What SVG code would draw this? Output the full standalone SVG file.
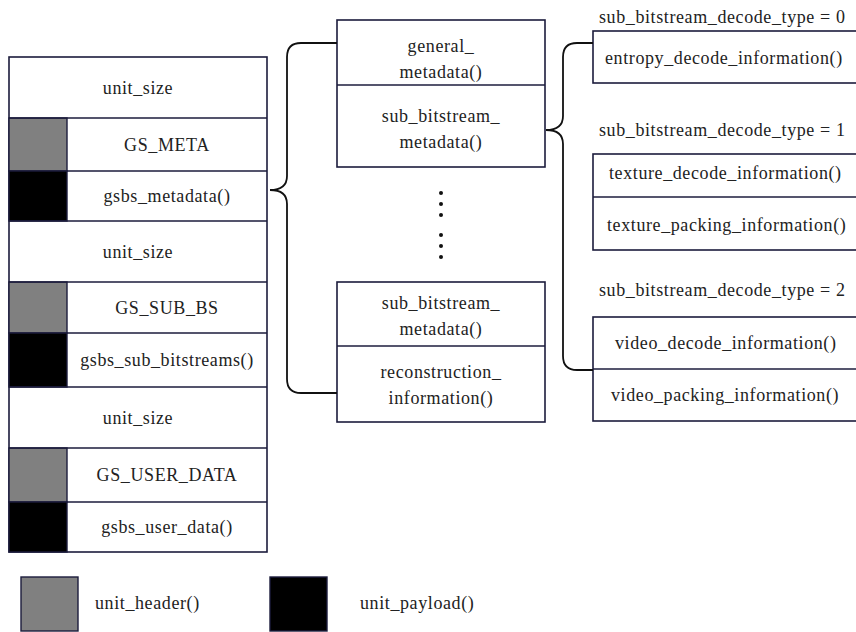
<svg xmlns="http://www.w3.org/2000/svg" width="856" height="632" viewBox="0 0 856 632">
<style>
.box{fill:#fff;stroke:#1c1c3c;stroke-width:1.6}
.hdr{fill:#808080;stroke:#1c1c3c;stroke-width:1.4}
.pay{fill:#000;stroke:#1c1c3c;stroke-width:1.4}
.ln{fill:none;stroke:#1c1c3c;stroke-width:1.6}
.br{fill:none;stroke:#111;stroke-width:1.8}
</style>
<rect width="856" height="632" fill="#fff"/>
<g id="left-column">
<rect class="box" x="9" y="57" width="258" height="495"/>
<rect class="hdr" x="9" y="118" width="58" height="53"/>
<rect class="pay" x="9" y="171" width="58" height="50"/>
<rect class="hdr" x="9" y="282" width="58" height="51"/>
<rect class="pay" x="9" y="333" width="58" height="54"/>
<rect class="hdr" x="9" y="448" width="58" height="54"/>
<rect class="pay" x="9" y="502" width="58" height="50"/>
<path class="ln" d="M9,118H267M67,171H267M9,221H267M9,282H267M67,333H267M9,387H267M9,448H267M67,502H267"/>
<text x="138" y="94" text-anchor="middle" font-family="Liberation Serif" font-size="18" letter-spacing="0.6" fill="#222">unit_size</text>
<text x="167" y="151" text-anchor="middle" font-family="Liberation Serif" font-size="18" letter-spacing="0.6" fill="#222">GS_META</text>
<text x="167" y="202" text-anchor="middle" font-family="Liberation Serif" font-size="18" letter-spacing="0.6" fill="#222">gsbs_metadata()</text>
<text x="138" y="258" text-anchor="middle" font-family="Liberation Serif" font-size="18" letter-spacing="0.6" fill="#222">unit_size</text>
<text x="167" y="314" text-anchor="middle" font-family="Liberation Serif" font-size="18" letter-spacing="0.6" fill="#222">GS_SUB_BS</text>
<text x="167" y="366" text-anchor="middle" font-family="Liberation Serif" font-size="18" letter-spacing="0.6" fill="#222">gsbs_sub_bitstreams()</text>
<text x="138" y="424" text-anchor="middle" font-family="Liberation Serif" font-size="18" letter-spacing="0.6" fill="#222">unit_size</text>
<text x="167" y="481" text-anchor="middle" font-family="Liberation Serif" font-size="18" letter-spacing="0.6" fill="#222">GS_USER_DATA</text>
<text x="167" y="533" text-anchor="middle" font-family="Liberation Serif" font-size="18" letter-spacing="0.6" fill="#222">gsbs_user_data()</text>
</g>
<g id="metadata-box-top">
<rect class="box" x="337" y="20" width="208" height="147"/>
<path class="ln" d="M337,85H545"/>
<text x="441" y="52" text-anchor="middle" font-family="Liberation Serif" font-size="18" letter-spacing="0.6" fill="#222">general_</text>
<text x="441" y="78" text-anchor="middle" font-family="Liberation Serif" font-size="18" letter-spacing="0.6" fill="#222">metadata()</text>
<text x="441" y="122" text-anchor="middle" font-family="Liberation Serif" font-size="18" letter-spacing="0.6" fill="#222">sub_bitstream_</text>
<text x="441" y="148" text-anchor="middle" font-family="Liberation Serif" font-size="18" letter-spacing="0.6" fill="#222">metadata()</text>
</g>
<g id="ellipsis" fill="#111">
<circle cx="441" cy="193" r="2"/><circle cx="441" cy="204" r="2"/><circle cx="441" cy="215" r="2"/>
<circle cx="441" cy="235" r="2"/><circle cx="441" cy="246" r="2"/><circle cx="441" cy="257" r="2"/>
</g>
<g id="metadata-box-bottom">
<rect class="box" x="337" y="282" width="208" height="140"/>
<path class="ln" d="M337,346H545"/>
<text x="441" y="309" text-anchor="middle" font-family="Liberation Serif" font-size="18" letter-spacing="0.6" fill="#222">sub_bitstream_</text>
<text x="441" y="335" text-anchor="middle" font-family="Liberation Serif" font-size="18" letter-spacing="0.6" fill="#222">metadata()</text>
<text x="441" y="378" text-anchor="middle" font-family="Liberation Serif" font-size="18" letter-spacing="0.6" fill="#222">reconstruction_</text>
<text x="441" y="404" text-anchor="middle" font-family="Liberation Serif" font-size="18" letter-spacing="0.6" fill="#222">information()</text>
</g>
<g id="type0">
<text x="599" y="23" font-family="Liberation Serif" font-size="18" letter-spacing="0.6" fill="#222">sub_bitstream_decode_type = 0</text>
<rect class="box" x="593" y="31" width="270" height="52"/>
<text x="605" y="64" font-family="Liberation Serif" font-size="18" letter-spacing="0.6" fill="#222">entropy_decode_information()</text>
</g>
<g id="type1">
<text x="599" y="136" font-family="Liberation Serif" font-size="18" letter-spacing="0.6" fill="#222">sub_bitstream_decode_type = 1</text>
<rect class="box" x="593" y="154" width="270" height="96"/>
<path class="ln" d="M593,197H863"/>
<text x="609" y="179" font-family="Liberation Serif" font-size="18" letter-spacing="0.6" fill="#222">texture_decode_information()</text>
<text x="607" y="231" font-family="Liberation Serif" font-size="18" letter-spacing="0.6" fill="#222">texture_packing_information()</text>
</g>
<g id="type2">
<text x="599" y="296" font-family="Liberation Serif" font-size="18" letter-spacing="0.6" fill="#222">sub_bitstream_decode_type = 2</text>
<rect class="box" x="593" y="317" width="270" height="104"/>
<path class="ln" d="M593,369H863"/>
<text x="615" y="349" font-family="Liberation Serif" font-size="18" letter-spacing="0.6" fill="#222">video_decode_information()</text>
<text x="611" y="401" font-family="Liberation Serif" font-size="18" letter-spacing="0.6" fill="#222">video_packing_information()</text>
</g>
<g id="legend">
<rect class="hdr" x="21" y="577" width="57" height="54"/>
<text x="95" y="609" font-family="Liberation Serif" font-size="18" letter-spacing="0.6" fill="#222">unit_header()</text>
<rect class="pay" x="270" y="577" width="57" height="54"/>
<text x="360" y="609" font-family="Liberation Serif" font-size="18" letter-spacing="0.6" fill="#222">unit_payload()</text>
</g>
<g id="connectors">
<path class="br" d="M337,43H301Q287,43 287,57V176Q287,190 270,190Q287,190 287,204V379Q287,393 301,393H337"/>
<path class="br" d="M593,43H577Q563,43 563,57V116Q563,130 546,130Q563,130 563,144V356Q563,370 577,370H593"/>
</g>
</svg>
